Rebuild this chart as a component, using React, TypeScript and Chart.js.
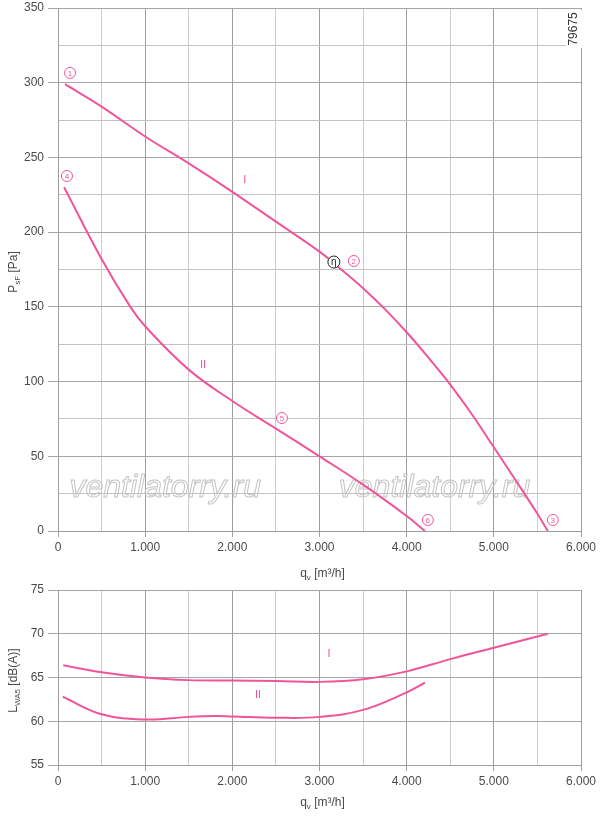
import React, { useEffect, useRef } from 'react';
import { Chart, registerables } from 'chart.js';

Chart.register(...registerables);

const PINK = '#f0559b';
const FONT = '"Liberation Sans", Arial, sans-serif';
const TEXT = '#4a4a4a';

// pressure curves, q_v [m3/h] -> p_sF [Pa]
const flowI = [80, 500, 1000, 1500, 2000, 2500, 3000, 3250, 3500, 3750, 4000, 4250, 4500, 4750, 5000, 5250, 5500, 5620];
const pressureI = [299, 284, 264, 246, 227, 207, 187, 175, 162.5, 148.5, 133, 116, 98, 78, 56, 34, 11.5, 0];
const flowII = [70, 500, 830, 1000, 1500, 2000, 2500, 3000, 3500, 4000, 4210];
const pressureII = [230, 182, 150, 137, 108, 87, 68.5, 50, 31, 10, 0];

// sound power level, q_v [m3/h] -> L_WA5 [dB(A)]
const soundFlowI = [60, 500, 1000, 1500, 2000, 2500, 3000, 3500, 4000, 4500, 5000, 5620];
const soundI = [66.4, 65.6, 65.0, 64.7, 64.65, 64.6, 64.5, 64.8, 65.7, 67.1, 68.4, 70.0];
const soundFlowII = [55, 500, 1000, 1500, 1800, 2000, 2500, 3000, 3500, 4000, 4210];
const soundII = [62.8, 60.8, 60.2, 60.5, 60.6, 60.55, 60.4, 60.5, 61.3, 63.3, 64.4];

// operating point markers (label, q, p)
const pointLabels = ['1', '2', '3', '4', '5', '6'];
const pointFlow = [138, 3394, 5677, 103, 2569, 4243];
const pointPressure = [306.6, 180.7, 7.4, 237.6, 75.6, 7.4];
const etaPoint = [3165, 180];
const curveTagsTop = [{ t: 'I', q: 2144, v: 235 }, { t: 'II', q: 1663, v: 111 }];
const curveTagsBottom = [{ t: 'I', q: 3108, v: 67.7 }, { t: 'II', q: 2294, v: 63.0 }];
const watermarkAt = [[1230, 29], [4320, 29]];
const codeAt = [5920, 336];

type Part = { t: string; sub?: boolean };

function drawRich(ctx: CanvasRenderingContext2D, parts: Part[], x: number, y: number, rotate: boolean) {
  ctx.save();
  ctx.translate(x, y);
  if (rotate) ctx.rotate(-Math.PI / 2);
  const big = `12px ${FONT}`;
  const small = `8px ${FONT}`;
  let w = 0;
  parts.forEach((p) => { ctx.font = p.sub ? small : big; w += ctx.measureText(p.t).width; });
  let cx = -w / 2;
  ctx.fillStyle = TEXT;
  ctx.textBaseline = 'middle';
  ctx.textAlign = 'left';
  parts.forEach((p) => {
    ctx.font = p.sub ? small : big;
    ctx.fillText(p.t, cx, p.sub ? 4 : 0);
    cx += ctx.measureText(p.t).width;
  });
  ctx.restore();
}

function circled(ctx: CanvasRenderingContext2D, x: number, y: number, label: string, color: string, r: number, font: string) {
  ctx.save();
  ctx.beginPath();
  ctx.arc(x, y, r, 0, Math.PI * 2);
  ctx.fillStyle = '#fff';
  ctx.fill();
  ctx.lineWidth = 1;
  ctx.strokeStyle = color;
  ctx.stroke();
  ctx.fillStyle = color;
  ctx.font = font;
  ctx.textAlign = 'center';
  ctx.textBaseline = 'middle';
  ctx.fillText(label, x, y + 0.5);
  ctx.restore();
}

function tag(ctx: CanvasRenderingContext2D, x: number, y: number, t: string) {
  ctx.save();
  ctx.fillStyle = PINK;
  ctx.font = `11px ${FONT}`;
  ctx.textAlign = 'center';
  ctx.textBaseline = 'middle';
  ctx.fillText(t, x, y);
  ctx.restore();
}

const fmtFlow = (v: number) => (v === 0 ? '0' : `${v / 1000}.000`);

function xScale(): any {
  return {
    type: 'linear',
    min: 0,
    max: 6000,
    afterFit: (s: any) => { s.height = 51; s.paddingLeft = 0; s.paddingRight = 0; },
    ticks: {
      stepSize: 500,
      autoSkip: false,
      maxRotation: 0,
      color: TEXT,
      padding: 3,
      font: { family: FONT, size: 12 },
      callback: (v: number) => (v % 1000 === 0 ? fmtFlow(v) : ''),
    },
    grid: {
      tickLength: 6,
      lineWidth: 1,
      color: (c: any) => (c.tick && c.tick.value % 1000 === 0 ? '#9e9e9e' : '#cdcdcd'),
      tickColor: (c: any) => (c.tick && c.tick.value % 1000 === 0 ? '#9e9e9e' : 'rgba(0,0,0,0)'),
    },
    border: { color: '#9e9e9e' },
  };
}

function yScale(min: number, max: number, step: number, labelEvery: number): any {
  return {
    type: 'linear',
    min,
    max,
    afterFit: (s: any) => { s.width = 58; s.paddingTop = 0; s.paddingBottom = 0; },
    ticks: {
      stepSize: step,
      autoSkip: false,
      color: TEXT,
      padding: 4,
      font: { family: FONT, size: 12 },
      callback: (v: number) => (v % labelEvery === 0 ? String(v) : ''),
    },
    grid: {
      tickLength: 10,
      lineWidth: 1,
      color: (c: any) => (c.tick && c.tick.value % labelEvery === 0 ? '#a6a6a6' : '#c2c2c2'),
      tickColor: (c: any) => (c.tick && c.tick.value % labelEvery === 0 ? '#a6a6a6' : 'rgba(0,0,0,0)'),
    },
    border: { color: '#9e9e9e' },
  };
}

function curve(xs: number[], ys: number[]) {
  return {
    data: xs.map((x, i) => ({ x, y: ys[i] })),
    borderColor: PINK,
    borderWidth: 2,
    pointRadius: 0,
    tension: 0.4,
    fill: false,
  };
}

const qTitle: Part[] = [{ t: 'q' }, { t: 'v', sub: true }, { t: ' [m³/h]' }];

const topOverlay = {
  id: 'topOverlay',
  beforeDatasetsDraw(chart: any) {
    const { ctx, scales } = chart;
    ctx.save();
    ctx.font = `italic 32px ${FONT}`;
    ctx.textAlign = 'center';
    ctx.textBaseline = 'middle';
    ctx.strokeStyle = '#c4c4c4';
    ctx.lineWidth = 1;
    watermarkAt.forEach(([q, v]) => {
      ctx.strokeText('ventilatorry.ru', scales.x.getPixelForValue(q), scales.y.getPixelForValue(v));
    });
    ctx.restore();
  },
  afterDatasetsDraw(chart: any) {
    const { ctx, scales } = chart;
    const px = (q: number) => scales.x.getPixelForValue(q);
    const py = (v: number) => scales.y.getPixelForValue(v);
    pointLabels.forEach((l, i) => circled(ctx, px(pointFlow[i]), py(pointPressure[i]), l, PINK, 5.5, `8px ${FONT}`));
    circled(ctx, px(etaPoint[0]), py(etaPoint[1]), 'η', '#222', 6, `10px ${FONT}`);
    curveTagsTop.forEach((c) => tag(ctx, px(c.q), py(c.v), c.t));
    // drawing number
    ctx.save();
    ctx.translate(px(codeAt[0]), py(codeAt[1]));
    ctx.rotate(-Math.PI / 2);
    ctx.fillStyle = '#fff';
    ctx.fillRect(-19, -8, 38, 16);
    ctx.fillStyle = '#333';
    ctx.font = `12px ${FONT}`;
    ctx.textAlign = 'center';
    ctx.textBaseline = 'middle';
    ctx.fillText('79675', 0, 0);
    ctx.restore();
  },
  afterDraw(chart: any) {
    const { ctx, chartArea } = chart;
    drawRich(ctx, [{ t: 'P' }, { t: 'sF', sub: true }, { t: ' [Pa]' }], 14, 272, true);
    drawRich(ctx, qTitle, (chartArea.left + chartArea.right) / 2 + 3, chartArea.bottom + 43, false);
  },
};

const bottomOverlay = {
  id: 'bottomOverlay',
  afterDatasetsDraw(chart: any) {
    const { ctx, scales } = chart;
    curveTagsBottom.forEach((c) => tag(ctx, scales.x.getPixelForValue(c.q), scales.y.getPixelForValue(c.v), c.t));
  },
  afterDraw(chart: any) {
    const { ctx, chartArea } = chart;
    drawRich(ctx, [{ t: 'L' }, { t: 'WA5', sub: true }, { t: ' [dB(A)]' }], 14, (chartArea.top + chartArea.bottom) / 2 + 3, true);
    drawRich(ctx, qTitle, (chartArea.left + chartArea.right) / 2 + 3, chartArea.bottom + 38, false);
  },
};

export default function App() {
  const topRef = useRef<HTMLCanvasElement>(null);
  const bottomRef = useRef<HTMLCanvasElement>(null);

  useEffect(() => {
    if (!topRef.current || !bottomRef.current) return;

    const top = new Chart(topRef.current, {
      type: 'line',
      data: { datasets: [curve(flowI, pressureI), curve(flowII, pressureII)] as any },
      options: {
        responsive: false,
        animation: false,
        layout: { padding: { left: 0, right: 19, top: 8, bottom: 0 } },
        plugins: { legend: { display: false }, tooltip: { enabled: false } },
        scales: { x: xScale(), y: yScale(0, 350, 25, 50) },
      },
      plugins: [topOverlay],
    });

    const bottom = new Chart(bottomRef.current, {
      type: 'line',
      data: { datasets: [curve(soundFlowI, soundI), curve(soundFlowII, soundII)] as any },
      options: {
        responsive: false,
        animation: false,
        layout: { padding: { left: 0, right: 19, top: 8, bottom: 0 } },
        plugins: { legend: { display: false }, tooltip: { enabled: false } },
        scales: { x: xScale(), y: yScale(55, 75, 5, 5) },
      },
      plugins: [bottomOverlay],
    });

    return () => { top.destroy(); bottom.destroy(); };
  }, []);

  return (
    <div style={{ position: 'absolute', left: 0, top: 0, width: 600, height: 816, background: '#fff' }}>
      <canvas ref={topRef} width={600} height={582} style={{ position: 'absolute', left: 0, top: 0, width: 600, height: 582 }} />
      <canvas ref={bottomRef} width={600} height={234} style={{ position: 'absolute', left: 0, top: 582, width: 600, height: 234 }} />
    </div>
  );
}
